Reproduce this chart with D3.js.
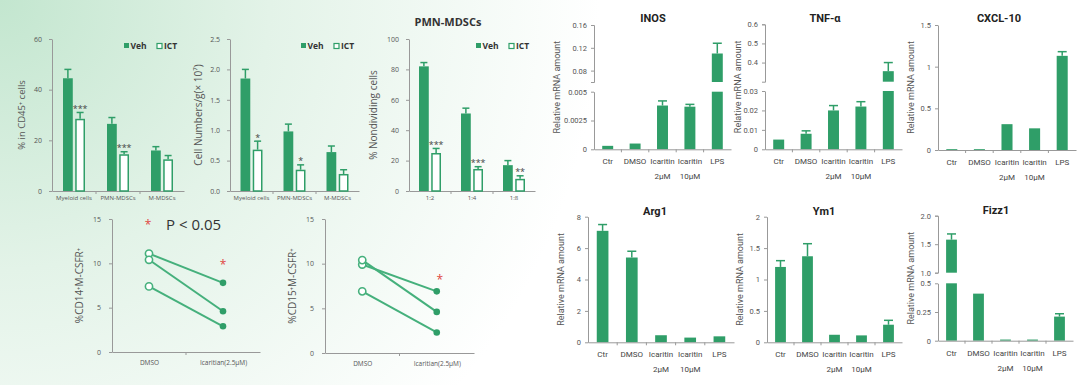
<!DOCTYPE html>
<html>
<head>
<meta charset="utf-8">
<script src="https://cdn.jsdelivr.net/npm/d3@7"></script>
<style>
  body { margin: 0; background: #fff; }
  svg text { font-family: "Open Sans", "DejaVu Sans", sans-serif; }
  .narrow text { font-family: "Liberation Sans Narrow", "Roboto", sans-serif; }
</style>
</head>
<body>
<script>
// ---- data ----
const cellCats = ["Myeloid cells", "PMN-MDSCs", "M-MDSCs"];
const cd45Ticks = [0, 20, 40, 60];
const cd45Veh = [44.5, 26.5, 16];
const cd45VehErr = [3.5, 2.5, 1.5];
const cd45Ict = [28.5, 14.5, 12.5];
const cd45IctErr = [2.5, 1, 1.5];
const cd45Stars = ["***", "***", ""];

const numTicks = [0, 0.5, 1, 1.5, 2, 2.5];
const numVeh = [1.85, 0.98, 0.64];
const numVehErr = [0.15, 0.12, 0.1];
const numIct = [0.68, 0.35, 0.28];
const numIctErr = [0.14, 0.08, 0.07];
const numStars = ["*", "*", ""];

const ratioCats = ["1:2", "1:4", "1:8"];
const nondivTicks = [0, 20, 40, 60, 80, 100];
const nondivVeh = [82, 51, 17];
const nondivVehErr = [2.5, 3.5, 3];
const nondivIct = [25, 14.5, 8];
const nondivIctErr = [3, 1.5, 2];
const nondivStars = ["***", "***", "**"];

const pairCats = ["DMSO", "Icaritian(2.5μM)"];
const pairTicks = [0, 5, 10, 15];
const cd14Dmso = [11.1, 10.4, 7.4];
const cd14Ica = [7.8, 4.6, 2.9];
const cd15Dmso = [9.9, 10.4, 6.9];
const cd15Ica = [6.9, 4.6, 2.3];

const geneCats = ["Ctr", "DMSO", "Icaritin|2μM", "Icaritin|10μM", "LPS"];
const inos = [0.0003, 0.0005, 0.0038, 0.0037, 0.11];
const inosErr = [0, 0, 0.0004, 0.0002, 0.018];
const tnf = [0.005, 0.008, 0.020, 0.022, 0.355];
const tnfErr = [0, 0.0015, 0.0025, 0.0025, 0.045];
const cxcl10 = [0.01, 0.01, 0.31, 0.26, 1.13];
const cxcl10Err = [0, 0, 0, 0, 0.05];
const arg1 = [7.1, 5.4, 0.45, 0.3, 0.38];
const arg1Err = [0.4, 0.4, 0, 0, 0];
const ym1 = [1.2, 1.37, 0.12, 0.11, 0.28];
const ym1Err = [0.1, 0.2, 0, 0, 0.07];
const fizz1 = [1.58, 0.41, 0.01, 0.01, 0.21];
const fizz1Err = [0.1, 0, 0, 0, 0.025];

const W = 1080, H = 385;
const green = "#2f9e68";
const lineGreen = "#45b07c";

const svg = d3.select("body").append("svg").attr("width", W).attr("height", H);

// soft mint wash in the upper left
const grad = svg.append("defs").append("radialGradient")
  .attr("id", "bg").attr("gradientUnits", "userSpaceOnUse")
  .attr("cx", 0).attr("cy", 0).attr("r", 600);
grad.append("stop").attr("offset", "0%").attr("stop-color", "#c3e6cf");
grad.append("stop").attr("offset", "45%").attr("stop-color", "#e3f3e8");
grad.append("stop").attr("offset", "100%").attr("stop-color", "#ffffff");
svg.append("rect").attr("width", W).attr("height", H).attr("fill", "url(#bg)");

function styleAxis(sel, size) {
  sel.select(".domain").attr("stroke", "#999");
  sel.selectAll(".tick line").attr("stroke", "#999");
  sel.selectAll(".tick text").attr("fill", "#555").style("font-size", size + "px");
}

function errBar(g, cx, y0, y1, half, color) {
  g.append("line").attr("x1", cx).attr("x2", cx).attr("y1", y0).attr("y2", y1)
    .attr("stroke", color).attr("stroke-width", 1.5);
  g.append("line").attr("x1", cx - half).attr("x2", cx + half).attr("y1", y1).attr("y2", y1)
    .attr("stroke", color).attr("stroke-width", 1.5);
}

// grouped Veh / ICT bars (top left)
function groupedBars(o) {
  const g = svg.append("g");
  const x = d3.scaleBand().domain(o.cats).range(o.xr);
  const sub = d3.scaleBand().domain(["Veh", "ICT"]).range([-11, 11]).paddingInner(0.2);
  const y = d3.scaleLinear().domain(d3.extent(o.ticks)).range(o.yr);

  g.append("g").attr("transform", `translate(${o.xr[0]},0)`)
    .call(d3.axisLeft(y).tickValues(o.ticks).tickSize(3).tickSizeOuter(0).tickPadding(7))
    .call(styleAxis, 7);
  const xa = g.append("g").attr("transform", `translate(0,${o.yr[0]})`)
    .call(d3.axisBottom(x).tickSize(0).tickSizeOuter(0).tickPadding(5))
    .call(styleAxis, 6);
  xa.selectAll(".bnd").data(o.cats.slice(1)).join("line").attr("class", "bnd")
    .attr("x1", d => x(d)).attr("x2", d => x(d)).attr("y1", 0).attr("y2", 3)
    .attr("stroke", "#999");

  const cx = i => x(o.cats[i]) + x.bandwidth() / 2;
  const bw = sub.bandwidth();
  const series = [
    { key: "Veh", vals: o.veh, errs: o.vehErr },
    { key: "ICT", vals: o.ict, errs: o.ictErr }
  ];
  series.forEach(s => {
    s.vals.forEach((v, i) => {
      const bx = cx(i) + sub(s.key);
      errBar(g, bx + bw / 2, y(v), y(v + s.errs[i]), 3.5, green);
    });
    const hollow = s.key === "ICT";
    g.selectAll(null).data(s.vals).join("rect")
      .attr("x", (d, i) => cx(i) + sub(s.key) + (hollow ? 0.75 : 0))
      .attr("width", bw - (hollow ? 1.5 : 0))
      .attr("y", d => y(d) + (hollow ? 0.75 : 0))
      .attr("height", d => y(0) - y(d) - (hollow ? 0.75 : 0))
      .attr("fill", hollow ? "#fff" : green)
      .attr("stroke", hollow ? green : "none")
      .attr("stroke-width", 1.5);
  });
  g.selectAll(null).data(o.stars).join("text")
    .attr("x", (d, i) => cx(i) + sub("ICT") + bw / 2)
    .attr("y", (d, i) => y(o.ict[i] + o.ictErr[i]) - 0.5)
    .attr("text-anchor", "middle").attr("fill", "#444").style("font-size", "9px")
    .text(d => d);

  const lg = g.append("g").attr("transform", `translate(${o.legend[0]},${o.legend[1]})`);
  lg.append("rect").attr("x", 0).attr("y", -3).attr("width", 5).attr("height", 5).attr("fill", green);
  lg.append("text").attr("x", 6.5).attr("y", 2.5).text("Veh");
  lg.append("rect").attr("x", 33).attr("y", -2.5).attr("width", 5).attr("height", 5)
    .attr("fill", "#fff").attr("stroke", green).attr("stroke-width", 1.2);
  lg.append("text").attr("x", 40).attr("y", 2.5).text("ICT");
  lg.selectAll("text").attr("fill", "#333").style("font-size", "8.5px").style("font-weight", "bold");

  g.append("text")
    .attr("transform", `translate(${o.ylabX},${(o.yr[0] + o.yr[1]) / 2}) rotate(-90)`)
    .attr("text-anchor", "middle").attr("fill", "#555").style("font-size", o.ylabSize + "px")
    .text(o.ylab);
  if (o.title) {
    g.append("text").attr("x", o.title[1]).attr("y", o.title[2]).attr("text-anchor", "middle")
      .attr("fill", "#333").style("font-size", "11px").style("font-weight", "bold").text(o.title[0]);
  }
}

// paired DMSO -> Icaritin dots (bottom left)
function pairPanel(o) {
  const g = svg.append("g");
  const x = d3.scalePoint().domain(pairCats).range(o.xr).padding(0.5);
  const y = d3.scaleLinear().domain([0, 15]).range(o.yr);
  g.append("g").attr("transform", `translate(${o.xr[0]},0)`)
    .call(d3.axisLeft(y).tickValues(pairTicks).tickSize(3).tickSizeOuter(0).tickPadding(8))
    .call(styleAxis, 7);
  const xa = g.append("g").attr("transform", `translate(0,${o.yr[0]})`)
    .call(d3.axisBottom(x).tickSize(0).tickSizeOuter(0).tickPadding(8))
    .call(styleAxis, 6.5);
  const mid = (o.xr[0] + o.xr[1]) / 2;
  xa.append("line").attr("x1", mid).attr("x2", mid).attr("y1", 0).attr("y2", 3).attr("stroke", "#999");

  o.dmso.forEach((d, i) => {
    g.append("line")
      .attr("x1", x(pairCats[0])).attr("y1", y(d))
      .attr("x2", x(pairCats[1])).attr("y2", y(o.ica[i]))
      .attr("stroke", lineGreen).attr("stroke-width", 2);
  });
  g.selectAll(null).data(o.dmso).join("circle")
    .attr("cx", x(pairCats[0])).attr("cy", d => y(d)).attr("r", 3.6)
    .attr("fill", "#fff").attr("stroke", lineGreen).attr("stroke-width", 1.6);
  g.selectAll(null).data(o.ica).join("circle")
    .attr("cx", x(pairCats[1])).attr("cy", d => y(d)).attr("r", 3.3)
    .attr("fill", green);

  o.stars.forEach(s => {
    g.append("text").attr("x", x(pairCats[s[0]]) + s[2]).attr("y", y(s[1]) + 5)
      .attr("text-anchor", "middle").attr("fill", "#e0453f").style("font-size", "12px").text("*");
  });
  if (o.p) {
    g.append("text").attr("x", x(pairCats[0]) + 17).attr("y", y(o.p[1]) + 5.5)
      .attr("fill", "#333").style("font-size", "15px").text(o.p[0]);
  }
  g.append("text")
    .attr("transform", `translate(${o.xr[0] - 29},${(o.yr[0] + o.yr[1]) / 2}) rotate(-90)`)
    .attr("text-anchor", "middle").attr("fill", "#555").style("font-size", "10px")
    .text(o.ylab);
}

// qPCR bars, optionally with a broken y axis (right)
function geneBars(o) {
  const g = svg.append("g").attr("class", "narrow");
  const x = d3.scaleBand().domain(geneCats).range(o.xr).paddingInner(0.6).paddingOuter(0.3);
  const segs = o.segs.map(s => Object.assign({}, s, {
    y: d3.scaleLinear().domain([s.lo, s.hi]).range(s.r)
  }));
  const base = segs[0].r[0];

  segs.forEach((s, k) => {
    g.append("g").attr("transform", `translate(${o.xr[0]},0)`)
      .call(d3.axisLeft(s.y).tickValues(s.ticks).tickFormat(s.fmt || (d => d))
        .tickSize(3).tickSizeOuter(k > 0 ? 3 : 0).tickPadding(4))
      .call(styleAxis, 7.5);
    const inSeg = o.vals.map((v, i) => ({ v, i })).filter(d => d.v > s.lo);
    g.selectAll(null).data(inSeg).join("rect")
      .attr("x", d => x(geneCats[d.i])).attr("width", x.bandwidth())
      .attr("y", d => s.y(Math.min(d.v, s.hi)))
      .attr("height", d => s.y(s.lo) - s.y(Math.min(d.v, s.hi)))
      .attr("fill", green);
    inSeg.filter(d => o.errs[d.i] > 0 && d.v <= s.hi).forEach(d => {
      errBar(g, x(geneCats[d.i]) + x.bandwidth() / 2, s.y(d.v), s.y(d.v + o.errs[d.i]), 4.5, green);
    });
  });

  const xa = g.append("g").attr("transform", `translate(0,${base})`)
    .call(d3.axisBottom(x).tickSize(0).tickSizeOuter(0).tickFormat(""))
    .call(styleAxis, 8);
  xa.selectAll(".bnd").data(d3.range(1, geneCats.length)).join("line").attr("class", "bnd")
    .attr("x1", i => o.xr[0] + i * x.step()).attr("x2", i => o.xr[0] + i * x.step())
    .attr("y1", 0).attr("y2", 3).attr("stroke", "#999");
  const lab = g.selectAll(null).data(geneCats).join("text")
    .attr("x", d => x(d) + x.bandwidth() / 2).attr("y", base + 15)
    .attr("text-anchor", "middle").attr("fill", "#444").style("font-size", "8px");
  lab.selectAll("tspan").data(d => d.split("|")).join("tspan")
    .attr("x", function () { return this.parentNode.getAttribute("x"); })
    .attr("dy", (d, i) => i ? 15 : 0).text(d => d);

  const top = segs[segs.length - 1].r[1];
  g.append("text")
    .attr("transform", `translate(${o.xr[0] - (o.ylabOff || 24)},${(base + top) / 2}) rotate(-90)`)
    .attr("text-anchor", "middle").attr("fill", "#555").style("font-size", "9px")
    .text("Relative mRNA amount");
  g.append("text").attr("x", o.title[1]).attr("y", o.title[2]).attr("text-anchor", "middle")
    .attr("fill", "#222").style("font-size", "11px").style("font-weight", "bold").text(o.title[0]);
}

groupedBars({
  cats: cellCats, xr: [52, 184], yr: [191, 39], ticks: cd45Ticks,
  veh: cd45Veh, vehErr: cd45VehErr, ict: cd45Ict, ictErr: cd45IctErr, stars: cd45Stars,
  legend: [124, 46], ylab: "% in CD45⁺ cells", ylabX: 25, ylabSize: 9.5
});
groupedBars({
  cats: cellCats, xr: [230, 359], yr: [191, 39], ticks: numTicks,
  veh: numVeh, vehErr: numVehErr, ict: numIct, ictErr: numIctErr, stars: numStars,
  legend: [301, 46], ylab: "Cell Numbers/g(× 10⁷)", ylabX: 202, ylabSize: 10
});
groupedBars({
  cats: ratioCats, xr: [409, 535], yr: [191, 39], ticks: nondivTicks,
  veh: nondivVeh, vehErr: nondivVehErr, ict: nondivIct, ictErr: nondivIctErr, stars: nondivStars,
  legend: [476, 46], ylab: "% Nondividing cells", ylabX: 377, ylabSize: 10,
  title: ["PMN-MDSCs", 448, 26]
});

pairPanel({
  xr: [112, 260], yr: [352, 219], dmso: cd14Dmso, ica: cd14Ica,
  stars: [[0, 14.4, -1], [1, 9.9, 0]], p: ["P < 0.05", 14.4], ylab: "%CD14⁺M-CSFR⁺"
});
pairPanel({
  xr: [325, 474], yr: [353, 219], dmso: cd15Dmso, ica: cd15Ica,
  stars: [[1, 8.3, 3]], ylab: "%CD15⁺M-CSFR⁺"
});

geneBars({
  vals: inos, errs: inosErr, xr: [594, 731], title: ["INOS", 653, 22], ylabOff: 34,
  segs: [
    { lo: 0, hi: 0.005, r: [149.3, 91.7], ticks: [0, 0.0025, 0.005] },
    { lo: 0.06, hi: 0.16, r: [82, 25], ticks: [0.08, 0.12, 0.16] }
  ]
});
geneBars({
  vals: tnf, errs: tnfErr, xr: [765, 902], title: ["TNF-α", 825, 22],
  segs: [
    { lo: 0, hi: 0.03, r: [149.3, 91], ticks: [0, 0.01, 0.02, 0.03] },
    { lo: 0.3, hi: 0.6, r: [81.7, 24.3], ticks: [0.4, 0.5, 0.6] }
  ]
});
geneBars({
  vals: cxcl10, errs: cxcl10Err, xr: [938, 1076], title: ["CXCL-10", 999, 22],
  segs: [{ lo: 0, hi: 1.5, r: [150, 25], ticks: [0, 0.5, 1, 1.5] }]
});
geneBars({
  vals: arg1, errs: arg1Err, xr: [588, 734], title: ["Arg1", 655, 215],
  segs: [{ lo: 0, hi: 8, r: [342.3, 216.7], ticks: [0, 2, 4, 6, 8] }]
});
geneBars({
  vals: ym1, errs: ym1Err, xr: [767, 902], title: ["Ym1", 824, 215],
  segs: [{ lo: 0, hi: 2, r: [342.3, 216.7], ticks: [0, 0.5, 1, 1.5, 2] }]
});
geneBars({
  vals: fizz1, errs: fizz1Err, xr: [938, 1073], title: ["Fizz1", 996, 214],
  segs: [
    { lo: 0, hi: 0.5, r: [340.7, 283.3], ticks: [0, 0.25, 0.5] },
    { lo: 1, hi: 2, r: [272.7, 215.7], ticks: [1, 1.5, 2], fmt: d3.format(".1f") }
  ]
});
</script>
</body>
</html>
